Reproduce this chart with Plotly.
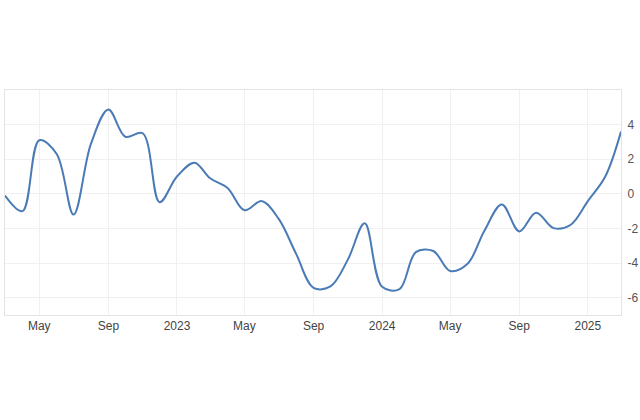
import plotly.graph_objects as go

dates = [
    "2022-03-01", "2022-04-01", "2022-05-01", "2022-06-01", "2022-07-01", "2022-08-01",
    "2022-09-01", "2022-10-01", "2022-11-01", "2022-12-01", "2023-01-01", "2023-02-01",
    "2023-03-01", "2023-04-01", "2023-05-01", "2023-06-01", "2023-07-01", "2023-08-01",
    "2023-09-01", "2023-10-01", "2023-11-01", "2023-12-01", "2024-01-01", "2024-02-01",
    "2024-03-01", "2024-04-01", "2024-05-01", "2024-06-01", "2024-07-01", "2024-08-01",
    "2024-09-01", "2024-10-01", "2024-11-01", "2024-12-01", "2025-01-01", "2025-02-01",
    "2025-03-01",
]
values = [
    -0.1, -1.0, 3.1, 2.3, -1.2, 2.9,
    4.87, 3.3, 3.5, -0.48, 1.0, 1.8,
    0.9, 0.34, -0.95, -0.42, -1.45, -3.47,
    -5.43, -5.35, -3.8, -1.7, -5.37, -5.5,
    -3.37, -3.3, -4.46, -4.04, -2.13, -0.61,
    -2.17, -1.09, -1.98, -1.8, -0.42, 1.0,
    3.6,
]

x_tick_vals = ["2022-05-01", "2022-09-01", "2023-01-01", "2023-05-01", "2023-09-01",
               "2024-01-01", "2024-05-01", "2024-09-01", "2025-01-01"]
x_tick_text = ["May", "Sep", "2023", "May", "Sep", "2024", "May", "Sep", "2025"]
y_tick_vals = [4, 2, 0, -2, -4, -6]
y_tick_text = ["4", "2", "0", "-2", "-4", "-6"]

fig = go.Figure()
fig.add_trace(go.Scatter(
    x=dates, y=values, mode="lines",
    line=dict(color="#4a7bb6", width=2, shape="spline", smoothing=1.0),
    hoverinfo="skip",
))

fig.update_layout(
    width=640, height=420,
    margin=dict(l=5, r=19, t=90, b=105, autoexpand=False),
    paper_bgcolor="white", plot_bgcolor="white",
    showlegend=False,
    font=dict(family="Liberation Sans, Arial, sans-serif", size=12, color="#444444"),
    xaxis=dict(
        range=["2022-03-01", "2025-03-01"],
        tickvals=x_tick_vals, ticktext=x_tick_text,
        showgrid=True, gridcolor="#f0f0f0", gridwidth=1,
        showline=True, linecolor="#e4e4e4", linewidth=1, mirror=True,
        ticks="", zeroline=False, automargin=False,
    ),
    yaxis=dict(
        range=[-7, 6], side="right",
        tickvals=y_tick_vals, ticktext=y_tick_text,
        showgrid=True, gridcolor="#f0f0f0", gridwidth=1,
        showline=True, linecolor="#e4e4e4", linewidth=1, mirror=True,
        ticks="", zeroline=False, automargin=False, ticklabelstandoff=3,
        tickfont=dict(size=12, color="#555555"),
    ),
)

fig.write_html(
    "out.html",
    config={"displayModeBar": False, "staticPlot": True},
    post_script="document.body.style.margin='0';document.body.style.overflow='hidden';",
)
